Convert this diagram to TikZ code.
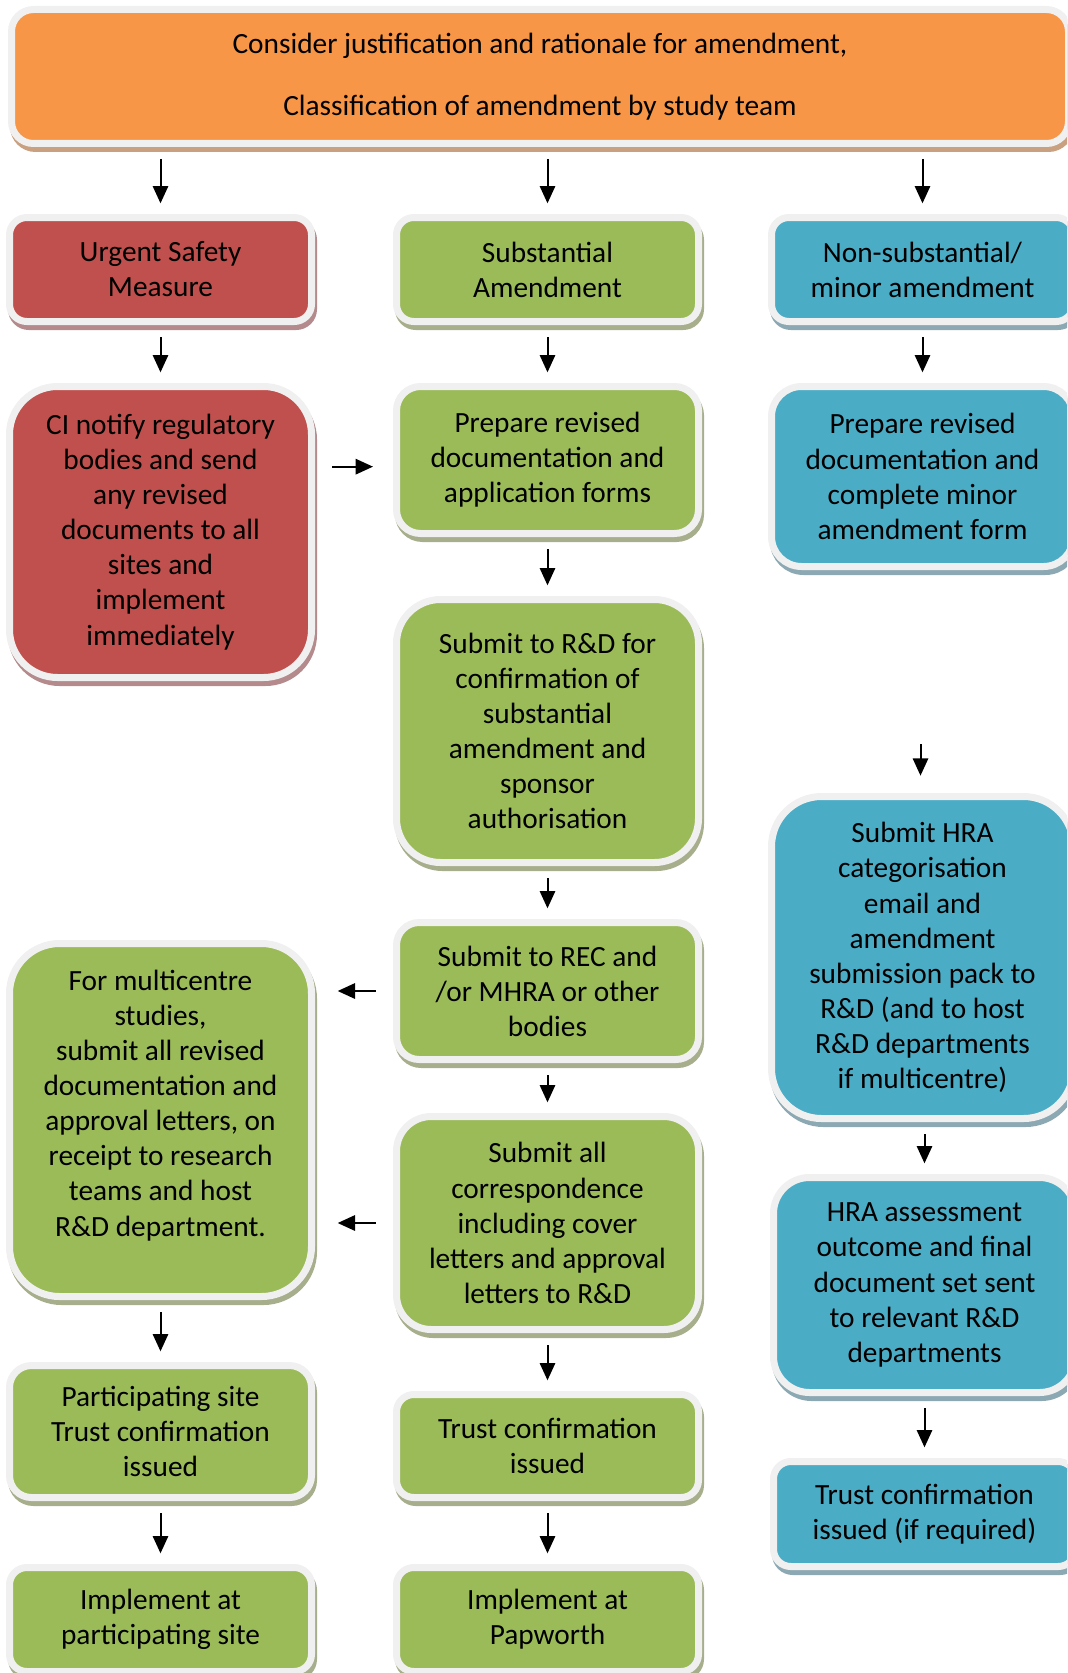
\documentclass[tikz,border=0pt]{standalone}
\usepackage{fontspec}
\setmainfont{Carlito}
\usetikzlibrary{arrows.meta,shadows}

\definecolor{orng}{HTML}{F79646}
\definecolor{orngshade}{HTML}{C9A181}
\definecolor{usred}{HTML}{C0504D}
\definecolor{usredshade}{HTML}{B48A8C}
\definecolor{subgreen}{HTML}{9BBB59}
\definecolor{subgreenshade}{HTML}{A6AE8C}
\definecolor{minblue}{HTML}{4BACC6}
\definecolor{minblueshade}{HTML}{8CA9B3}
\definecolor{boxrim}{HTML}{F0F0F0}

\newcommand{\flowfont}{\fontsize{22}{26.3}\selectfont}

\tikzset{
    flowbox/.style 2 args={rectangle, rounded corners=#2, fill=#1,
        draw=boxrim, line width=5.25pt, align=center, inner sep=2pt,
        font=\flowfont, text=black, minimum width=226.5pt,
        drop shadow={shadow xshift=1.5pt, shadow yshift=-3.75pt,
            opacity=1, fill=#1shade, draw=#1shade, line width=5.25pt}},
    flowarrow/.style={-{Triangle[length=13pt,width=11.5pt]}, line width=1.5pt,
        shorten <=9pt, shorten >=8pt},
    sidearrow/.style={flowarrow, shorten <=13pt, shorten >=15pt}
}

\begin{document}
\begin{tikzpicture}[x=0.75pt, y=-0.75pt]
    \useasboundingbox (0,0) rectangle (1067,1673);
    \clip (0,0) rectangle (1067,1673);

    % top box
    \node[flowbox={orng}{16.5pt}, minimum width=792.75pt, minimum height=100.5pt]
        (top) at (540,76.5)
        {Consider justification and rationale for amendment,\\[20pt]
         Classification of amendment by study team};

    % the three kinds of amendment
    \node[flowbox={usred}{13pt}, minimum height=78pt] (usm) at (160.5,269.5)
        {Urgent Safety\\Measure};
    \node[flowbox={subgreen}{13pt}, minimum height=78pt] (subst) at (547.5,269.5)
        {Substantial\\Amendment};
    \node[flowbox={minblue}{13pt}, minimum height=78pt] (nonsub) at (922.5,269.5)
        {Non-substantial/\\minor amendment};

    % left column
    \node[flowbox={usred}{36pt}, minimum height=218.25pt] (ci) at (160.5,532)
        {CI notify regulatory\\bodies and send\\any revised\\documents to all\\sites and\\implement\\immediately};
    \node[flowbox={subgreen}{37.5pt}, minimum height=264.75pt] (multi) at (160.5,1120)
        {For multicentre\\studies,\\submit all revised\\documentation and\\approval letters, on\\receipt to research\\teams and host\\R\&D department.\\[-1pt]};
    \node[flowbox={subgreen}{16.5pt}, minimum height=99pt] (partsite) at (160.5,1431.5)
        {Participating site\\Trust confirmation\\issued};
    \node[flowbox={subgreen}{13pt}, minimum height=78pt] (implpart) at (160.5,1619.5)
        {Implement at\\participating site};

    % middle column
    \node[flowbox={subgreen}{18pt}, minimum height=110.25pt] (prepsub) at (547.5,460)
        {Prepare revised\\documentation and\\application forms};
    \node[flowbox={subgreen}{33pt}, minimum height=197.25pt] (submitrd) at (547.5,731)
        {Submit to R\&D for\\confirmation of\\substantial\\amendment and\\sponsor\\authorisation};
    \node[flowbox={subgreen}{17pt}, minimum height=102.75pt] (rec) at (547.5,991)
        {Submit to REC and\\/or MHRA or other\\bodies};
    \node[flowbox={subgreen}{26pt}, minimum height=159.75pt] (corr) at (547.5,1223)
        {Submit all\\correspondence\\including cover\\letters and approval\\letters to R\&D};
    \node[flowbox={subgreen}{13pt}, minimum height=77.25pt] (trustmid) at (547.5,1446)
        {Trust confirmation\\issued};
    \node[flowbox={subgreen}{13pt}, minimum height=78pt] (implpap) at (547.5,1619.5)
        {Implement at\\Papworth};

    % right column
    \node[flowbox={minblue}{22.5pt}, minimum height=135pt] (prepmin) at (922.5,476.5)
        {Prepare revised\\documentation and\\complete minor\\amendment form};
    \coordinate (hragap) at (920.5,744);
    \node[flowbox={minblue}{37.5pt}, minimum height=241.5pt] (submithra) at (922.5,957.5)
        {Submit HRA\\categorisation\\email and\\amendment\\submission pack to\\R\&D (and to host\\R\&D departments\\if multicentre)};
    \node[flowbox={minblue}{27pt}, minimum height=161.25pt] (hraout) at (924.5,1285)
        {HRA assessment\\outcome and final\\document set sent\\to relevant R\&D\\departments};
    \node[flowbox={minblue}{13pt}, minimum height=78.75pt] (trustreq) at (924.5,1514)
        {Trust confirmation\\issued (if required)};

    % arrows
    \draw[flowarrow] (top.south -| usm) -- (usm);
    \draw[flowarrow] (top.south -| subst) -- (subst);
    \draw[flowarrow] (top.south -| nonsub) -- (nonsub);
    \draw[flowarrow] (usm) -- (ci);
    \draw[flowarrow] (subst) -- (prepsub);
    \draw[flowarrow] (nonsub) -- (prepmin);
    \draw[sidearrow] ([yshift=-5pt]ci.east |- prepsub.west) -- ([yshift=-5pt]prepsub.west);
    \draw[flowarrow] (prepsub) -- (submitrd);
    \draw[flowarrow] (submitrd) -- (rec);
    \draw[flowarrow] (rec) -- (corr);
    \draw[flowarrow] (corr) -- (trustmid);
    \draw[flowarrow] (trustmid) -- (implpap);
    \draw[sidearrow, shorten >=17pt, shorten <=13pt] (rec) -- (multi.east |- rec);
    \draw[sidearrow, shorten >=17pt, shorten <=13pt] (corr) -- (multi.east |- corr);
    \draw[flowarrow] (multi) -- (partsite);
    \draw[flowarrow] (partsite) -- (implpart);
    \draw[flowarrow, shorten <=0pt, shorten >=13pt] (hragap) -- (hragap |- submithra.north);
    \draw[flowarrow] (submithra.south -| hraout) -- (hraout);
    \draw[flowarrow] (hraout) -- (trustreq);
\end{tikzpicture}
\end{document}
